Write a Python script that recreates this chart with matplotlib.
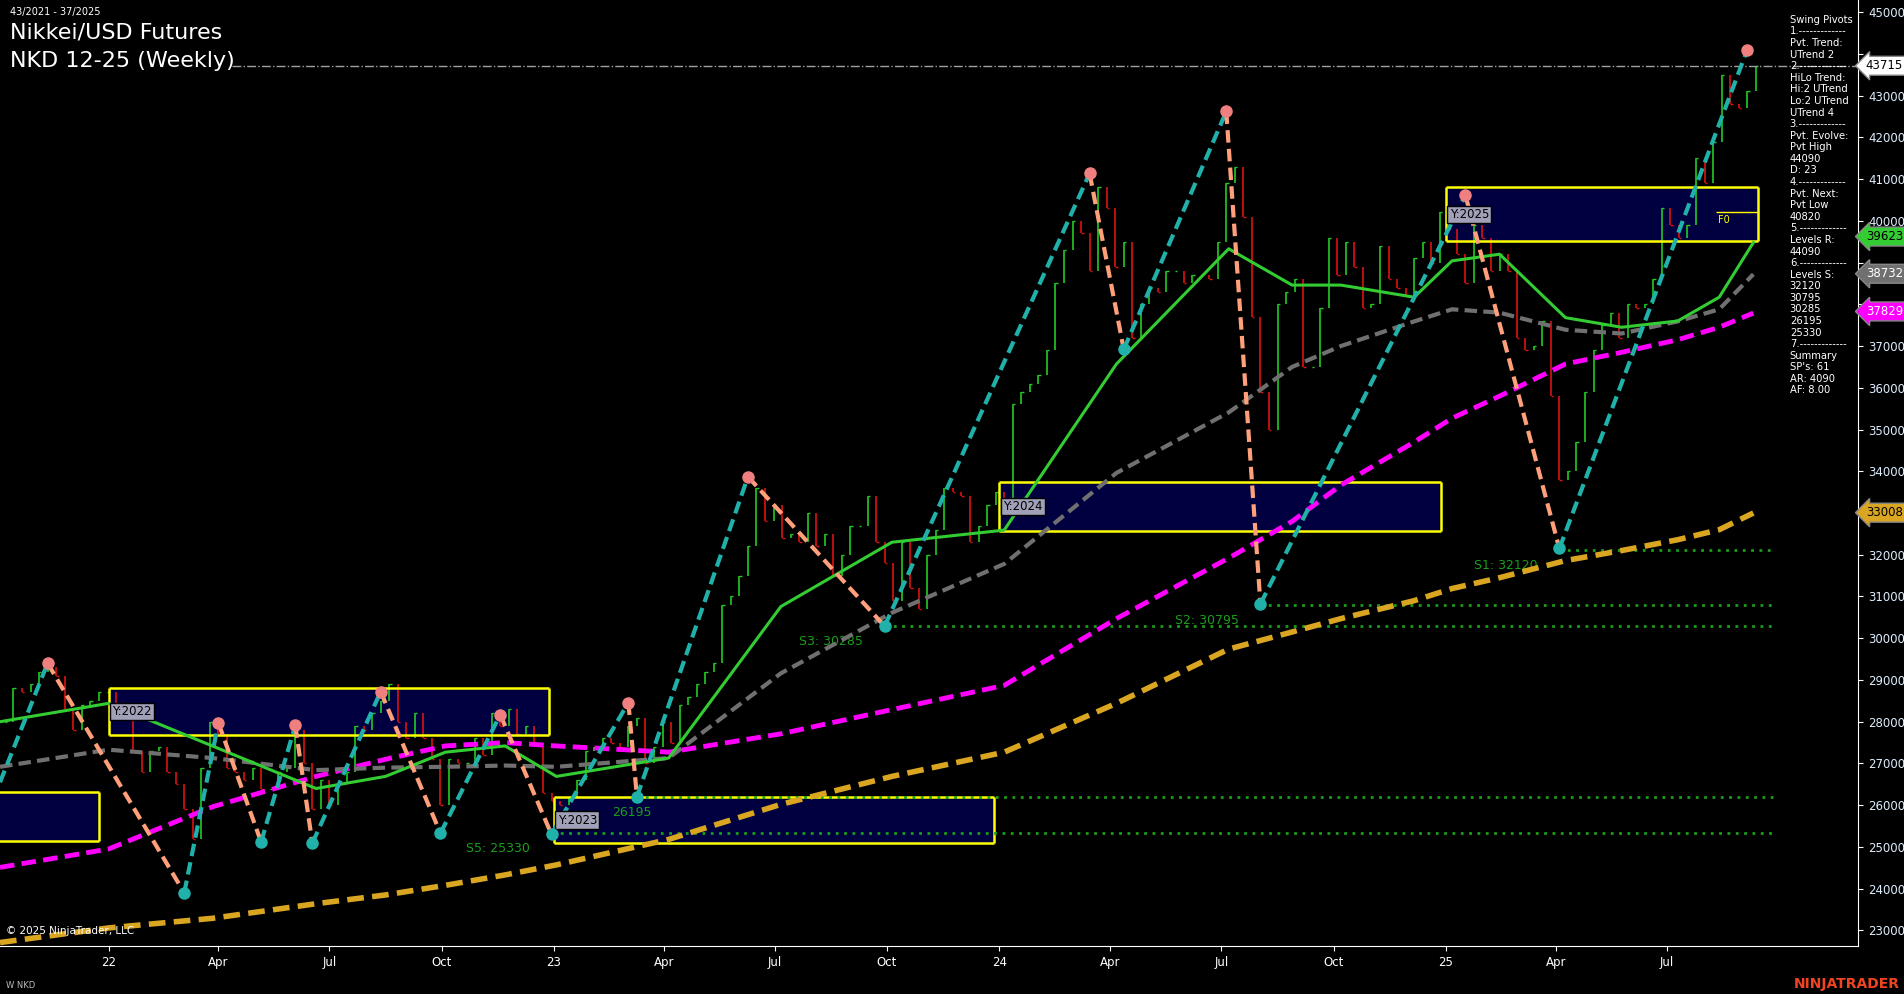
import numpy as np
import pandas as pd
import matplotlib
matplotlib.use('Agg')
import matplotlib.pyplot as plt
import matplotlib.dates as mdates
import matplotlib.transforms as mtransforms

# weekly closes from 2021-10-08
closes = [28000, 28800, 28700, 28900, 29200, 29300, 29100, 28300, 27800, 28400, 28500, 28700, 28700,
  28400, 28100, 27300, 26800, 27300, 27400, 26800, 26500, 25900, 25200, 26900, 28000, 27700, 26900,
  26800, 26600, 26900, 26400, 26400, 26800, 26900, 27800, 27000, 25900, 26600, 26000, 26500, 26800,
  27900, 27800, 28200, 28500, 28900, 28000, 27600, 28200, 27600, 27100, 26000, 27100, 27000, 27000,
  27600, 27200, 28200, 27900, 28300, 27700, 27900, 27500, 26300, 26100,
  26000, 26200, 26600, 27300, 27400, 27600, 27500, 27400, 27900, 28100, 27000, 27400, 28000, 27500,
  28400, 28600, 28900, 29200, 29400, 30800, 31000, 31500, 32200, 33600, 32800, 33200, 32400, 32500,
  32300, 33000, 32200, 32500, 31500, 32000, 32700, 32700, 33400, 32300, 31800, 30900, 32300, 31200,
  30700, 32000, 32600, 33600, 33500, 33400, 32300, 32700, 33200, 33500,
  33300, 35600, 35900, 36100, 36300, 36900, 38500, 39300, 40000, 39700, 38800, 40800, 40300, 38900,
  39500, 37200, 38000, 38400, 38300, 38800, 38800, 38500, 38700, 38700, 38600, 39500, 40900, 41300,
  40100, 37700, 35900, 35000, 38000, 38300, 38600, 36500, 36500, 37900, 39600, 38700, 39500, 38900,
  37900, 38000, 39400, 38600, 38400, 38200, 39100, 39500, 39000, 40200,
  39800, 39200, 38500, 39900, 39600, 38800, 39200, 38800, 37200, 36900, 37000, 37600, 35800, 33800,
  34000, 34700, 35900, 36900, 37500, 37800, 37200, 38000, 37900, 38000, 38600, 40300, 39900, 39600,
  39900, 41500, 40900, 41900, 43500, 42800, 42700, 43100, 43700]
first_week = '2021-10-08'

# swing pivots
pivot_dates = ['2021-10-04', '2021-11-12', '2022-03-04', '2022-04-01', '2022-05-06', '2022-06-03',
               '2022-06-17', '2022-08-12', '2022-09-30', '2022-11-18', '2022-12-30', '2023-03-03',
               '2023-03-10', '2023-06-09', '2023-09-29', '2024-03-15', '2024-04-12', '2024-07-05',
               '2024-08-02', '2025-01-17', '2025-04-04', '2025-09-05']
pivot_prices = [26550, 29400, 23900, 27970, 25120, 27910, 25090, 28720, 25330, 28170, 25300, 28460,
                26200, 33870, 30290, 41135, 36920, 42620, 30820, 40610, 32150, 44100]

# moving averages
ma_dates = ['2021-10-04', '2022-01-01', '2022-03-27', '2022-06-20', '2022-08-16', '2022-10-04',
            '2022-11-22', '2023-01-03', '2023-04-05', '2023-07-06', '2023-10-05', '2024-01-05',
            '2024-04-06', '2024-07-07', '2024-08-28', '2024-10-07', '2024-12-06', '2025-01-06',
            '2025-02-14', '2025-04-09', '2025-05-25', '2025-07-10', '2025-08-13', '2025-09-10']
ma_green = [28000, 28440, 27420, 26400, 26690, 27270, 27420, 26690, 27130, 30760, 32300, 32590,
            36570, 39330, 38460, 38460, 38170, 39040, 39200, 37680, 37450, 37600, 38170, 39480]
ma_gray = [26920, 27330, 27130, 26840, 26900, 26920, 26950, 26920, 27130, 29160, 30610, 31780,
           33960, 35410, 36500, 37000, 37590, 37880, 37800, 37390, 37300, 37590, 37880, 38720]
ma_magenta = [24510, 24950, 25960, 26690, 27100, 27420, 27500, 27420, 27270, 27710, 28290, 28870,
              30470, 31920, 32800, 33670, 34700, 35270, 35800, 36570, 36850, 37150, 37450, 37790]
ma_orange = [22710, 23060, 23290, 23640, 23850, 24080, 24330, 24570, 25180, 26020, 26690, 27270,
             28440, 29740, 30150, 30470, 30900, 31190, 31450, 31860, 32100, 32360, 32600, 33000]

# support levels
sup_levels = [32120, 30795, 30285, 26195, 25330]
sup_start = ['2025-04-04', '2024-08-02', '2023-09-29', '2023-03-10', '2022-12-30']
sup_names = ['S1: 32120', 'S2: 30795', 'S3: 30285', '26195', 'S5: 25330']
label_start = ['2025-01-24', '2024-05-24', '2023-07-21', '2023-02-18', '2022-10-21']

# yearly range boxes
box_years = ['', 'Y:2022', 'Y:2023', 'Y:2024', 'Y:2025']
box_start = ['2021-09-01', '2022-01-01', '2023-01-01', '2024-01-01', '2025-01-01']
box_end = ['2021-12-24', '2022-12-28', '2023-12-28', '2024-12-28', '2025-09-14']
box_low = [25150, 27680, 25090, 32560, 39510]
box_high = [26310, 28810, 26200, 33750, 40810]

panel_lines = ['Swing Pivots', '1.-------------', 'Pvt. Trend:', 'UTrend 2', '2.-------------',
               'HiLo Trend:', 'Hi:2 UTrend', 'Lo:2 UTrend', 'UTrend 4', '3.-------------',
               'Pvt. Evolve:', 'Pvt High', '44090', 'D: 23', '4.-------------', 'Pvt. Next:',
               'Pvt Low', '40820', '5.-------------', 'Levels R:', '44090', '6.-------------',
               'Levels S:', '32120', '30795', '30285', '26195', '25330', '7.-------------',
               'Summary', "SP's: 61", 'AR: 4090', 'AF: 8.00']

price_tags = [43715, 39623, 38732, 37829, 33008]
tag_colors = ['white', '#33cc33', '#707070', '#ff00ff', '#daa520']
tag_text = ['black', 'black', 'white', 'white', 'black']

# ---------------------------------------------------------------
fig = plt.figure(figsize=(19.04, 9.94), dpi=100, facecolor='black')
ax = fig.add_axes([0.0, 0.048, 0.976, 0.952], facecolor='black')

weeks = pd.date_range(first_week, periods=len(closes), freq='7D')
opens = [closes[0]] + closes[:-1]
for d, o, c in zip(weeks, opens, closes):
    col = '#22cc22' if c >= o else '#dd1111'
    ax.vlines(d, min(o, c), max(o, c), color=col, lw=1.2)
    ax.hlines(c, d, d + pd.Timedelta(days=2), color=col, lw=1)

# boxes
for lab, s, e, lo, hi in zip(box_years, box_start, box_end, box_low, box_high):
    s, e = pd.Timestamp(s), pd.Timestamp(e)
    ax.fill_between([s, e], lo, hi, color='#000040', zorder=1)
    ax.hlines([lo, hi], s, e, color='#ffff00', lw=1.8, zorder=2)
    ax.vlines([s, e], lo, hi, color='#ffff00', lw=1.8, zorder=2)
    if lab:
        ax.text(s + pd.Timedelta(days=3), (lo + hi) / 2, lab, color='black', fontsize=8.5,
                va='center', zorder=6,
                bbox=dict(facecolor='#a0a0b8', edgecolor='black', pad=1.5))

# support levels
end_lvl = pd.Timestamp('2025-09-26')
for lv, s, nm, ls_ in zip(sup_levels, sup_start, sup_names, label_start):
    ax.hlines(lv, pd.Timestamp(s), end_lvl, color='#1a9e1a', lw=2, ls=(0, (1, 2)), zorder=3)
    ax.text(pd.Timestamp(ls_), lv - 450, nm, color='#1a9e1a', fontsize=9, zorder=3)

md = pd.to_datetime(ma_dates)
ax.plot(md, ma_orange, color='#daa520', lw=4, ls=(0, (3, 1.5)), zorder=4)
ax.plot(md, ma_magenta, color='#ff00ff', lw=3.5, ls=(0, (3, 1.5)), zorder=4)
ax.plot(md, ma_gray, color='#707070', lw=3, ls=(0, (3, 1.5)), zorder=4)
ax.plot(md, ma_green, color='#33cc33', lw=2.2, zorder=4)

# zigzag
pd_ = pd.to_datetime(pivot_dates)
for i in range(len(pd_) - 1):
    up = pivot_prices[i + 1] > pivot_prices[i]
    ax.plot(pd_[i:i + 2], pivot_prices[i:i + 2], color='#20b2aa' if up else '#ffa07a',
            lw=3, ls=(0, (3, 1.5)), zorder=5)
for d, p, i in zip(pd_, pivot_prices, range(len(pd_))):
    if i == 0:
        continue
    hi = i % 2 == 1
    ax.plot(d, p, 'o', ms=8, color='#f08080' if hi else '#20b2aa', zorder=6)

# last price line
ax.axhline(43715, xmin=0.125, color='#a0a0a0', lw=1, ls='-.', zorder=3)
ax.hlines(40200, pd.Timestamp('2025-08-10'), pd.Timestamp('2025-09-14'), color='#ffff00', lw=1)
ax.text(pd.Timestamp('2025-08-12'), 39950, 'F0', color='#ffff00', fontsize=7)

ax.set_ylim(22620, 45290)
ax.set_xlim(pd.Timestamp('2021-10-04'), pd.Timestamp('2025-12-05'))
ax.yaxis.tick_right()
yt = list(range(23000, 45001, 1000))
ax.set_yticks(yt)
ax.set_yticklabels([str(v) if min(abs(v - t) for t in price_tags) > 350 else '' for v in yt])
ax.set_xticks(pd.date_range('2022-01-01', '2025-07-01', freq='QS'))
ax.xaxis.set_major_formatter(plt.FuncFormatter(
    lambda v, p: mdates.num2date(v).strftime('%y') if mdates.num2date(v).month == 1
    else mdates.num2date(v).strftime('%b')))
ax.tick_params(colors='white', labelsize=8.5)
for t in ax.get_yticklabels():
    t.set_color('#ddeeff')
for sp in ['top', 'left']:
    ax.spines[sp].set_visible(False)
ax.spines['right'].set_color('white')
ax.spines['bottom'].set_color('white')

tr = mtransforms.blended_transform_factory(ax.transAxes, ax.transData)
for v, fc, tc in zip(price_tags, tag_colors, tag_text):
    ax.text(1.004, v, str(v), transform=tr, color=tc, fontsize=8.5, va='center', ha='left',
            bbox=dict(boxstyle='larrow,pad=0.25', facecolor=fc, edgecolor='#888888'),
            clip_on=False, zorder=10)

for i, ln in enumerate(panel_lines):
    fig.text(0.94, 0.985 - i * 0.01165, ln, color='white', fontsize=7.2, va='top')

fig.text(0.005, 0.993, '43/2021 - 37/2025', color='white', fontsize=7, va='top')
fig.text(0.005, 0.977, 'Nikkei/USD Futures', color='white', fontsize=16, va='top')
fig.text(0.005, 0.949, 'NKD 12-25 (Weekly)', color='white', fontsize=16, va='top')
fig.text(0.003, 0.06, '© 2025 NinjaTrader, LLC', color='white', fontsize=7.5)
fig.text(0.003, 0.006, 'W NKD', color='#bbbbbb', fontsize=6)
fig.text(0.998, 0.006, 'NINJATRADER', color='#ee4422', fontsize=10, fontweight='bold', ha='right')

fig.savefig('out.png', dpi=100, facecolor='black')
